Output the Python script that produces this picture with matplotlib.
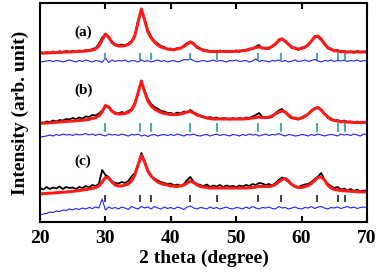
import numpy as np
import matplotlib
matplotlib.use('Agg')
import matplotlib.pyplot as plt

plt.rcParams['font.family'] = ['Liberation Serif', 'DejaVu Serif']
plt.rcParams['font.weight'] = 'bold'

# 2 theta grid, 20..70 step 0.5
two_theta = np.arange(20, 70.01, 0.5)

# ---- sample (a) ----
obs_a = [2.0, 0.5, 1.8, 1.0, 2.5, 1.2, 2.8, 1.5, 3.0, 2.0,
         3.2, 2.0, 3.5, 2.5, 4.0, 3.0, 5.0, 6.0, 10.0, 16.5,
         19.0, 16.0, 11.0, 10.0, 8.5, 9.5, 8.0, 10.5, 13.0, 19.0,
         33.0, 44.0, 35.0, 24.0, 17.5, 13.0, 10.5, 8.0, 7.0, 4.5,
         5.5, 3.5, 6.0, 5.5, 8.5, 11.0, 12.5, 11.0, 6.0, 5.5,
         3.0, 4.0, 2.0, 3.0, 1.5, 3.5, 2.5, 1.8, 3.2, 2.0,
         3.5, 2.2, 4.0, 3.0, 5.5, 5.0, 7.5, 9.0, 5.5, 6.5,
         5.0, 8.0, 9.5, 14.5, 15.5, 12.0, 10.0, 6.0, 6.5, 4.0,
         6.5, 6.0, 10.0, 12.5, 18.0, 17.0, 14.0, 11.0, 5.5, 5.5,
         2.5, 4.0, 1.5, 3.0, 1.5, 2.8, 1.2, 3.0, 1.8, 2.5,
         2.0]
fit_a = [1.0, 1.0, 1.0, 1.2, 1.5, 1.5, 1.6, 1.8, 2.0, 2.0,
         2.2, 2.4, 2.6, 2.8, 3.0, 3.5, 4.0, 5.0, 8.0, 14.0,
         20.0, 17.0, 12.0, 9.0, 8.0, 8.0, 8.5, 9.5, 12.0, 18.0,
         32.0, 45.0, 34.0, 22.0, 16.0, 12.0, 9.0, 7.0, 6.0, 5.0,
         4.5, 4.5, 5.0, 6.0, 7.5, 10.0, 12.0, 10.0, 7.0, 5.0,
         4.0, 3.0, 2.5, 2.5, 2.5, 2.5, 2.5, 2.5, 2.5, 2.5,
         2.7, 3.0, 3.3, 3.8, 4.5, 5.5, 6.5, 7.0, 6.0, 5.5,
         6.0, 7.5, 10.0, 13.5, 15.0, 13.0, 9.5, 7.0, 5.5, 5.0,
         5.5, 7.0, 9.0, 13.0, 17.0, 18.0, 15.0, 10.0, 6.5, 4.5,
         3.5, 3.0, 2.5, 2.2, 2.0, 2.0, 2.0, 2.0, 2.0, 2.0,
         2.0]
res_a = [-8, -7.5, -7, -6.5, -7.5, -6.5, -7, -8, -7, -6,
         -7, -8, -6.5, -7.5, -6, -7, -8, -6.5, -7, -8.5,
         -4, -8.5, -6, -7.5, -6.5, -7, -6, -8, -6.5, -7,
         -8, -6, -7.5, -6.5, -8, -7, -6, -7.5, -6.5, -8,
         -7, -6.5, -8, -7, -5.5, -6, -5, -6.5, -8, -7,
         -6.5, -7.5, -7, -6, -7.5, -6.5, -7, -8, -6.5, -7,
         -6, -7.5, -7, -6.5, -8, -7, -5, -7.5, -6.5, -7,
         -8, -6.5, -7, -6, -7.5, -6.5, -8, -7, -6, -7.5,
         -7, -6, -7.5, -6.5, -5.5, -7, -8, -6.5, -7, -6,
         -7.5, -6.5, -7, -6, -7.5, -6.5, -7, -6, -7.5, -6.5,
         -7]

# ---- sample (b) ----
obs_b = [2.0, 1.0, 2.5, 2.0, 3.5, 2.5, 4.0, 3.5, 5.0, 4.5,
         6.0, 5.0, 6.5, 5.5, 7.5, 7.0, 9.0, 8.5, 10.5, 13.5,
         18.0, 16.5, 12.5, 11.5, 10.5, 12.0, 11.0, 13.0, 15.0, 21.0,
         32.0, 42.0, 33.5, 25.0, 20.0, 17.0, 15.5, 13.0, 12.5, 11.0,
         11.0, 10.0, 11.5, 10.5, 12.5, 12.0, 14.0, 11.5, 10.0, 8.5,
         7.5, 6.0, 7.0, 5.5, 6.5, 5.0, 6.0, 5.5, 4.5, 6.0,
         5.0, 6.0, 5.0, 6.5, 6.0, 7.5, 9.0, 11.0, 7.0, 6.0,
         7.5, 7.0, 11.0, 13.5, 15.0, 11.5, 8.0, 5.5, 6.5, 4.5,
         6.5, 8.5, 9.5, 13.5, 15.0, 17.0, 13.5, 11.0, 6.0, 5.5,
         3.0, 4.0, 1.5, 3.5, 2.0, 2.5, 1.0, 2.5, 1.5, 2.0,
         1.0]
fit_b = [0.5, 0.8, 1.0, 1.2, 1.5, 1.8, 2.0, 2.2, 2.5, 2.8,
         3.0, 3.2, 3.5, 3.8, 4.2, 4.6, 5.5, 6.5, 8.0, 12.0,
         18.5, 17.0, 13.0, 10.5, 10.0, 10.2, 10.5, 11.5, 14.0, 20.0,
         31.0, 43.0, 32.0, 23.0, 18.0, 15.0, 13.0, 11.5, 10.5, 10.0,
         9.5, 9.5, 9.5, 10.0, 11.0, 12.0, 12.5, 11.0, 9.0, 8.0,
         7.0, 6.0, 5.5, 5.0, 5.0, 5.0, 5.0, 5.0, 5.0, 5.0,
         5.0, 5.0, 5.0, 5.2, 5.5, 6.0, 6.5, 7.0, 6.5, 6.5,
         6.5, 8.0, 10.0, 12.0, 13.0, 12.0, 9.0, 6.5, 5.5, 5.0,
         6.0, 7.5, 10.0, 13.0, 15.5, 16.5, 14.0, 10.0, 7.0, 4.5,
         3.5, 3.0, 2.5, 2.2, 2.0, 1.8, 1.5, 1.5, 1.5, 1.5,
         1.5]
res_b = [-13, -12.5, -12, -11, -12, -10.5, -11.5, -10, -11, -10.5,
         -11.5, -10, -11, -10.5, -9.5, -11, -10, -11.5, -10, -11,
         -12, -10, -11, -10.5, -11.5, -10, -11, -12, -10.5, -11,
         -10, -12, -11, -12.5, -11, -10.5, -12, -11, -10.5, -11.5,
         -10.5, -11.5, -10, -11, -12, -10.5, -11, -10, -11.5, -12,
         -11, -10.5, -12, -11, -10, -11.5, -10.5, -11, -12, -10.5,
         -11, -12, -10.5, -11.5, -10, -11, -10.5, -12, -11, -10,
         -11.5, -10.5, -11, -9.5, -11, -12, -10.5, -11, -12, -11.5,
         -10.5, -11, -12, -10.5, -11.5, -10, -11, -12, -11, -10.5,
         -11, -12, -10, -11, -10.5, -11.5, -10, -11, -12, -10,
         -10.5]

# ---- sample (c) ----
obs_c = [6.0, 4.5, 7.0, 5.0, 6.5, 5.5, 7.5, 5.0, 7.0, 6.0,
         6.5, 5.0, 7.0, 6.0, 8.0, 6.5, 9.0, 8.0, 10.0, 24.0,
         19.0, 17.0, 12.5, 11.0, 10.5, 12.0, 11.0, 13.0, 17.5, 21.0,
         30.0, 41.0, 33.0, 22.0, 17.5, 15.5, 13.5, 12.0, 11.0, 10.0,
         10.5, 8.5, 9.5, 8.0, 10.0, 14.0, 17.0, 12.0, 10.0, 9.0,
         8.0, 9.5, 7.0, 8.5, 7.5, 9.0, 7.0, 8.5, 7.5, 8.0,
         7.0, 8.5, 7.5, 9.0, 8.0, 10.0, 9.0, 11.0, 10.5, 9.0,
         10.0, 8.5, 11.0, 14.0, 16.5, 14.5, 12.0, 9.0, 8.0, 7.0,
         8.5, 9.5, 10.0, 12.0, 15.0, 17.5, 21.0, 14.0, 10.0, 8.0,
         6.0, 7.0, 4.5, 5.5, 3.5, 5.0, 3.0, 4.5, 2.5, 3.5,
         3.0]
fit_c = [0.0, 0.3, 0.5, 0.8, 1.0, 1.2, 1.5, 1.8, 2.0, 2.3,
         2.7, 3.0, 3.5, 4.0, 4.5, 5.0, 5.5, 6.5, 8.0, 12.0,
         16.5, 16.0, 12.0, 9.0, 8.0, 8.0, 9.0, 10.0, 13.0, 19.0,
         29.0, 38.5, 32.0, 23.0, 18.0, 14.5, 12.0, 10.5, 9.5, 9.0,
         8.0, 7.8, 7.5, 8.0, 9.0, 11.0, 13.0, 11.5, 9.0, 7.5,
         7.0, 6.5, 6.0, 6.0, 6.0, 6.0, 6.0, 6.0, 6.0, 6.0,
         6.0, 6.0, 6.0, 6.0, 6.2, 6.5, 7.0, 7.5, 7.5, 7.5,
         7.5, 8.0, 9.5, 12.0, 14.5, 15.5, 13.0, 9.5, 7.5, 6.5,
         6.5, 7.5, 8.5, 10.5, 13.5, 16.5, 17.0, 14.0, 9.0, 6.0,
         4.5, 4.0, 3.5, 3.2, 3.0, 2.8, 2.5, 2.3, 2.2, 2.0,
         2.0]
res_c = [-21, -20, -19.5, -18, -18.5, -17, -17.5, -16, -16.5, -15,
         -16, -14.5, -15.5, -14, -15, -13.5, -14.5, -13, -14, -5,
         -16, -13, -14.5, -13.5, -15, -13, -14, -15.5, -12.5, -14,
         -15, -12.5, -14, -13, -15, -12.5, -14, -15, -13, -14.5,
         -13.5, -15, -13, -14, -15.5, -13, -12, -14, -15, -13.5,
         -14, -15, -13, -14.5, -13.5, -15, -14, -13, -14.5, -15,
         -13.5, -14, -15, -13, -14.5, -12.5, -14, -15, -13.5, -14,
         -13, -14.5, -15, -12.5, -14, -13.5, -15, -14, -13, -14.5,
         -15, -13.5, -14, -12.5, -14.5, -13, -12.5, -14, -15, -13.5,
         -14, -13, -14.5, -13.5, -12.5, -14, -13, -14.5, -13.5, -13,
         -13.5]

# Bragg reflection positions
refl = [30.0, 35.3, 37.0, 43.0, 47.0, 53.3, 56.8, 62.3, 65.5, 66.6]

offsets = [168, 98, 28]
panels = [(obs_a, fit_a, res_a, '(a)', '#2e9e96', (1, -6)),
          (obs_b, fit_b, res_b, '(b)', '#2e9e96', (1, -8)),
          (obs_c, fit_c, res_c, '(c)', '#222222', (-1, -8))]
label_y = [190, 132, 61]

fig = plt.figure(figsize=(3.78, 2.72), dpi=100)
ax = fig.add_axes([40/378., 50/272., 327/378., 219/272.])

for (obs, fit, res, lab, tcol, trange), off, ly in zip(panels, offsets, label_y):
	ax.plot(two_theta, np.array(obs) + off, color='black', lw=1.3)
	ax.plot(two_theta, np.array(fit) + off, color='#ff1a1a', lw=2.2)
	ax.plot(two_theta, np.array(res) + off, color='#1f1fff', lw=0.8)
	ax.vlines(refl, trange[1] + off, trange[0] + off, color=tcol, lw=1.2)
	ax.text(26.6, ly, lab, ha='center', va='center', fontsize=11, fontweight='bold')

ax.set_xlim(20, 70)
ax.set_ylim(0, 219)
ax.set_xticks([20, 30, 40, 50, 60, 70])
ax.set_yticks([])
ax.tick_params(axis='x', direction='in', top=True, length=4, width=1.5, labelsize=14, pad=6)
for s in ax.spines.values():
	s.set_linewidth(1.5)
ax.set_xlabel('2 theta (degree)', fontsize=14, fontweight='bold', labelpad=2)
ax.set_ylabel('Intensity (arb. unit)', fontsize=14, fontweight='bold', labelpad=8)

plt.savefig('out.png', dpi=100)
plt.close()
